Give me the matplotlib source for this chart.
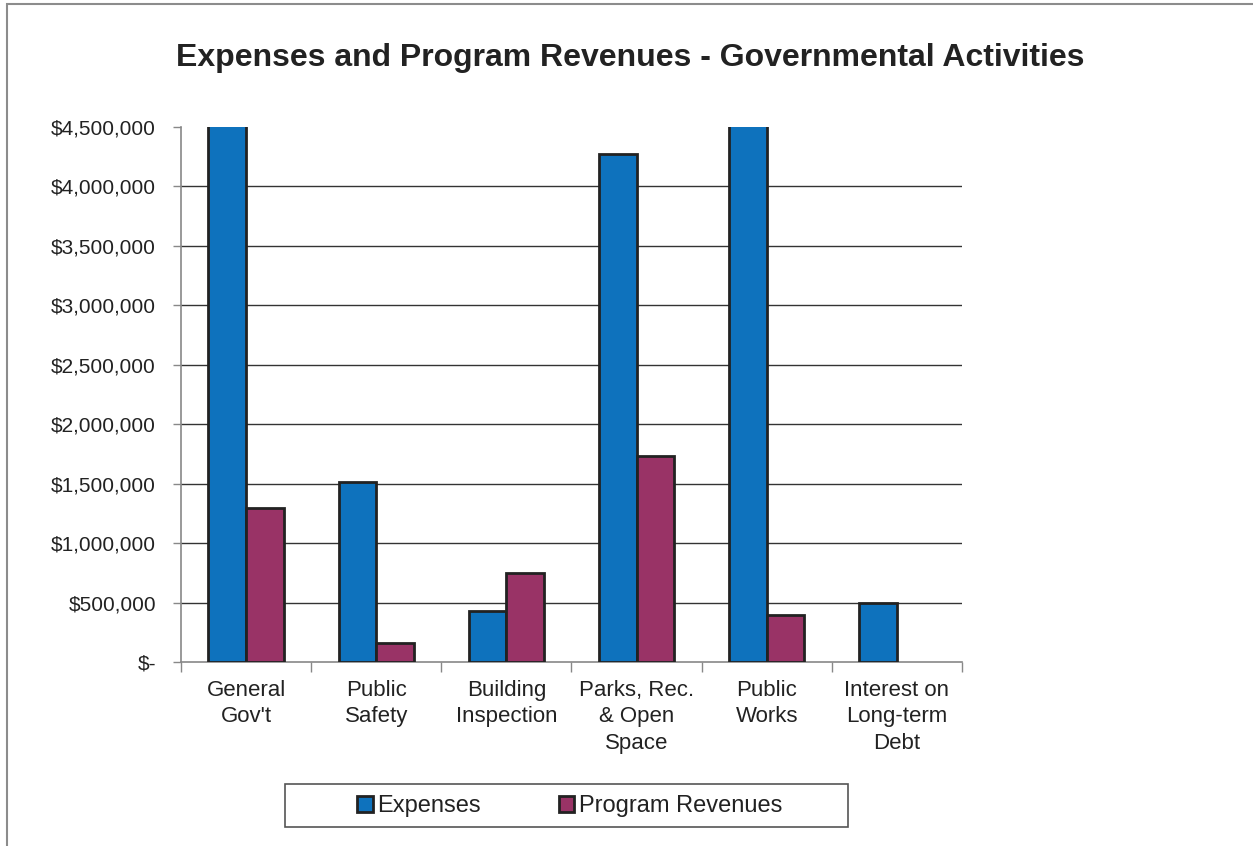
import numpy as np
import matplotlib.pyplot as plt
from matplotlib.patches import Rectangle
from matplotlib.ticker import FuncFormatter, FixedLocator

plt.rcParams['font.family'] = ['Liberation Sans', 'DejaVu Sans']

# Дані
categories = ["General\nGov't", "Public\nSafety", "Building\nInspection",
              "Parks, Rec.\n& Open\nSpace", "Public\nWorks", "Interest on\nLong-term\nDebt"]
expenses = [5600000, 1515000, 425000, 4270000, 5100000, 497000]
revenues = [1295000, 160000, 750000, 1733000, 395000, 0]
series_names = ["Expenses", "Program Revenues"]

blue = '#0E72BD'
plum = '#993366'
edge = '#222222'
txt = '#222222'

fig = plt.figure(figsize=(12.53, 8.46), dpi=100)
ax = fig.add_axes([181 / 1253, 1 - 662 / 846, 781 / 1253, 535 / 846])

x = np.arange(len(categories))
w = 0.29
ax.bar(x - w / 2, expenses, w, color=blue, edgecolor=edge,
       linewidth=[2 if v > 0 else 0 for v in expenses], label=series_names[0], zorder=3)
ax.bar(x + w / 2, revenues, w, color=plum, edgecolor=edge,
       linewidth=[2 if v > 0 else 0 for v in revenues], label=series_names[1], zorder=3)

ax.set_xlim(-0.5, len(categories) - 0.5)
ax.set_ylim(0, 4500000)

# лінії сітки без верхньої
for v in np.arange(500000, 4500000, 500000):
    ax.axhline(v, color='#333333', linewidth=1, zorder=1)

ax.set_yticks(np.arange(0, 4500001, 500000))
ax.yaxis.set_major_formatter(FuncFormatter(lambda v, p: '$-' if v == 0 else f'${v:,.0f}'))
ax.set_xticks(x)
ax.set_xticklabels(categories, linespacing=1.33)
ax.xaxis.set_minor_locator(FixedLocator(np.arange(-0.5, len(categories), 1)))
ax.tick_params(axis='x', which='major', length=0, pad=13, labelsize=16, labelcolor=txt)
ax.tick_params(axis='x', which='minor', length=7, width=1, color='#888888')
ax.tick_params(axis='y', length=6, width=1, color='#888888', pad=12, labelsize=15, labelcolor=txt)

for s in ['top', 'right']:
    ax.spines[s].set_visible(False)
for s in ['left', 'bottom']:
    ax.spines[s].set_color('#888888')
    ax.spines[s].set_linewidth(1.2)

fig.text(630 / 1253, 1 - 66 / 846, "Expenses and Program Revenues - Governmental Activities",
         ha='center', va='baseline', fontsize=23, fontweight='bold', color=txt)

# легенда
handles, labels = ax.get_legend_handles_labels()
leg = fig.legend(handles, labels, loc='center', bbox_to_anchor=(570 / 1253, 1 - 806 / 846),
                 ncol=2, frameon=False, fontsize=17, handlelength=0.65, handleheight=0.65,
                 handletextpad=0.2, columnspacing=3.3, labelcolor=txt)
fig.patches.append(Rectangle((285 / 1253, 1 - 827 / 846), 563 / 1253, 43 / 846,
                             transform=fig.transFigure, fill=False, edgecolor='#555555', linewidth=1.2))

# рамка
fig.patches.append(Rectangle((6.5 / 1253, -0.05), 1.1, 1 - 4.5 / 846 + 0.05,
                             transform=fig.transFigure, fill=False, edgecolor='#8c8c8c', linewidth=1.5))

fig.savefig('out.png', dpi=100)
